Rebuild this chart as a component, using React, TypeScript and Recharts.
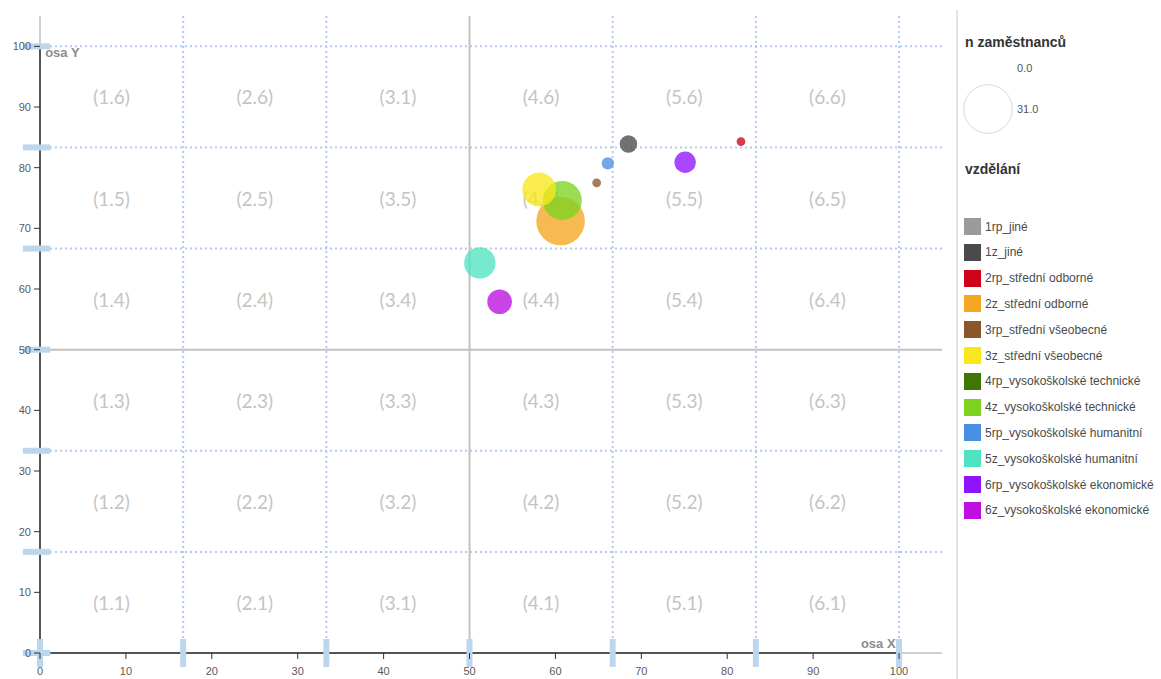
import React from 'react';
import { ScatterChart, Scatter, XAxis, YAxis, ZAxis, ReferenceLine } from 'recharts';

// ---------- data ----------
const educationCategories = [
  '1rp_jiné',
  '1z_jiné',
  '2rp_střední odborné',
  '2z_střední odborné',
  '3rp_střední všeobecné',
  '3z_střední všeobecné',
  '4rp_vysokoškolské technické',
  '4z_vysokoškolské technické',
  '5rp_vysokoškolské humanitní',
  '5z_vysokoškolské humanitní',
  '6rp_vysokoškolské ekonomické',
  '6z_vysokoškolské ekonomické',
];
const categoryColors = [
  '#9B9B9B', '#4A4A4A', '#D0021B', '#F5A623', '#8B572A', '#F8E71C',
  '#417505', '#7ED321', '#4A90E2', '#50E3C2', '#9013FE', '#BD10E0',
];
const bubbleX: (number | null)[] = [null, 68.5, 81.6, 60.6, 64.8, 58.1, null, 60.8, 66.1, 51.2, 75.1, 53.5];
const bubbleY: (number | null)[] = [null, 83.9, 84.3, 71.2, 77.5, 76.4, null, 74.6, 80.7, 64.3, 80.9, 57.9];
const employeeCounts: (number | null)[] = [null, 4, 1, 31, 1, 15, null, 20, 2, 13, 6, 8];

const xTicks = [0, 10, 20, 30, 40, 50, 60, 70, 80, 90, 100];
const yTicks = [0, 10, 20, 30, 40, 50, 60, 70, 80, 90, 100];
const sectorBounds = [0, 100 / 6, 200 / 6, 50, 400 / 6, 500 / 6, 100];
// rows from bottom (row 1) to top (row 6)
const sectorLabelRows = [
  ['(1.1)', '(2.1)', '(3.1)', '(4.1)', '(5.1)', '(6.1)'],
  ['(1.2)', '(2.2)', '(3.2)', '(4.2)', '(5.2)', '(6.2)'],
  ['(1.3)', '(2.3)', '(3.3)', '(4.3)', '(5.3)', '(6.3)'],
  ['(1.4)', '(2.4)', '(3.4)', '(4.4)', '(5.4)', '(6.4)'],
  ['(1.5)', '(2.5)', '(3.5)', '(4.5)', '(5.5)', '(6.5)'],
  ['(1.6)', '(2.6)', '(3.1)', '(4.6)', '(5.6)', '(6.6)'],
];
const axisTitles = [
  { text: 'osa Y', x: 0.6, y: 98.3, anchor: 'start' },
  { text: 'osa X', x: 99.6, y: 0.8, anchor: 'end' },
];
const sizeLegendValues = [0, 31];
const sizeLegendTitle = 'n zaměstnanců';
const colorLegendTitle = 'vzdělání';

// ---------- config ----------
const W = 1161;
const H = 679;
const X_MAX = 105;
const Y_MAX = 105;
const Z_MAX = 31;
const MAX_R = 24.3;
const Z_RANGE: [number, number] = [0, Math.PI * MAX_R * MAX_R];
const DOT_BLUE = '#b3c9ef';
const TICK_BLUE = '#bcd6ee';
const AXIS_DARK = '#555';
const AXIS_LIGHT = '#cfcfcf';

const sectorLabelData = sectorLabelRows.flatMap((row, ri) =>
  row.map((label, ci) => ({
    x: (sectorBounds[ci] + sectorBounds[ci + 1]) / 2,
    y: (sectorBounds[ri] + sectorBounds[ri + 1]) / 2,
    label,
  }))
);

const bubbleSeries = educationCategories
  .map((name, i) => ({
    name,
    color: categoryColors[i],
    n: employeeCounts[i],
    data:
      bubbleX[i] == null
        ? []
        : [{ x: bubbleX[i], y: bubbleY[i], n: employeeCounts[i] }],
  }))
  .filter((s) => s.data.length > 0)
  .sort((a, b) => (b.n as number) - (a.n as number));

const radiusFor = (v: number) => Math.sqrt(((v / Z_MAX) * Z_RANGE[1]) / Math.PI);

const SectorLabel = (props: any) => {
  const { cx, cy, payload } = props;
  return (
    <text
      x={cx}
      y={cy}
      textAnchor="middle"
      dominantBaseline="central"
      fill="#c4c4c4"
      fontSize={19}
      fontFamily="Lato, 'Open Sans', sans-serif"
    >
      {payload.label}
    </text>
  );
};

const AxisTitle = (props: any) => {
  const { cx, cy, payload } = props;
  return (
    <text
      x={cx}
      y={cy}
      textAnchor={payload.anchor}
      fill="#8c8c8c"
      fontSize={13}
      fontWeight="bold"
      fontFamily="'Liberation Sans', Arial, sans-serif"
    >
      {payload.text}
    </text>
  );
};

const tickStyle = { fill: '#5a5a5a', fontSize: 11, fontFamily: "'Liberation Sans', Arial, sans-serif" };

export default function App() {
  return (
    <div
      style={{
        position: 'absolute',
        left: 0,
        top: 0,
        width: W,
        height: H,
        background: '#fff',
        fontFamily: "'Liberation Sans', Arial, sans-serif",
      }}
    >
      <ScatterChart width={W} height={H} margin={{ top: 16, right: 219, bottom: 6, left: 0 }}>
        <XAxis
          type="number"
          dataKey="x"
          domain={[0, X_MAX]}
          ticks={xTicks}
          allowDataOverflow
          axisLine={false}
          tickLine={{ stroke: '#333' }}
          tickSize={6}
          tickMargin={8}
          height={20}
          tick={tickStyle}
          interval={0}
        />
        <YAxis
          type="number"
          dataKey="y"
          domain={[0, Y_MAX]}
          ticks={yTicks}
          allowDataOverflow
          axisLine={false}
          tickLine={{ stroke: '#333' }}
          tickSize={6}
          tickMargin={3}
          width={40}
          tick={tickStyle}
          interval={0}
        />
        <ZAxis type="number" dataKey="n" domain={[0, Z_MAX]} range={Z_RANGE} />

        {/* dotted sector grid */}
        {sectorBounds
          .filter((b) => b !== 0 && b !== 50)
          .map((b) => (
            <ReferenceLine
              key={'vx' + b}
              x={b}
              stroke={DOT_BLUE}
              strokeWidth={2}
              strokeDasharray="2 3"
              ifOverflow="visible"
            />
          ))}
        {sectorBounds
          .filter((b) => b !== 0 && b !== 50)
          .map((b) => (
            <ReferenceLine
              key={'hy' + b}
              y={b}
              stroke={DOT_BLUE}
              strokeWidth={2}
              strokeDasharray="2 3"
              ifOverflow="visible"
            />
          ))}

        {/* centre lines */}
        <ReferenceLine x={50} stroke="#c2c2c2" strokeWidth={2} ifOverflow="visible" />
        <ReferenceLine y={50} stroke="#c2c2c2" strokeWidth={2} ifOverflow="visible" />

        {/* axis lines: light extensions and dark 0–100 */}
        <ReferenceLine segment={[{ x: 0, y: 0 }, { x: 0, y: Y_MAX }]} stroke={AXIS_LIGHT} strokeWidth={2} ifOverflow="visible" />
        <ReferenceLine segment={[{ x: 0, y: 0 }, { x: X_MAX, y: 0 }]} stroke={AXIS_LIGHT} strokeWidth={2} ifOverflow="visible" />
        <ReferenceLine segment={[{ x: 0, y: 0 }, { x: 0, y: 100 }]} stroke={AXIS_DARK} strokeWidth={2} ifOverflow="visible" />
        <ReferenceLine segment={[{ x: 0, y: 0 }, { x: 100, y: 0 }]} stroke={AXIS_DARK} strokeWidth={2} ifOverflow="visible" />

        {/* blue sector ticks on axes */}
        {sectorBounds.map((b) => (
          <ReferenceLine
            key={'tx' + b}
            segment={[{ x: b, y: -2.3 }, { x: b, y: 2.3 }]}
            stroke={TICK_BLUE}
            strokeWidth={6}
            ifOverflow="visible"
          />
        ))}
        {sectorBounds.map((b) => (
          <ReferenceLine
            key={'ty' + b}
            segment={[{ x: -2, y: b }, { x: 1.2, y: b }]}
            stroke={TICK_BLUE}
            strokeWidth={6}
            ifOverflow="visible"
          />
        ))}

        {/* sector labels */}
        <Scatter data={sectorLabelData} shape={SectorLabel} isAnimationActive={false} />
        <Scatter data={axisTitles} shape={AxisTitle} isAnimationActive={false} />

        {/* bubbles */}
        {bubbleSeries.map((s) => (
          <Scatter
            key={s.name}
            name={s.name}
            data={s.data}
            fill={s.color}
            fillOpacity={0.78}
            shape="circle"
            isAnimationActive={false}
          />
        ))}
      </ScatterChart>

      {/* legend panel */}
      <div
        style={{
          position: 'absolute',
          left: 956,
          top: 10,
          width: 205,
          height: H - 10,
          borderLeft: '2px solid #e2e2e2',
        }}
      >
        <div style={{ position: 'absolute', left: 7, top: 24, fontSize: 14, fontWeight: 'bold', color: '#333', whiteSpace: 'nowrap' }}>
          {sizeLegendTitle}
        </div>
        <svg style={{ position: 'absolute', left: 0, top: 0 }} width={200} height={140}>
          {sizeLegendValues.map((v, i) => {
            const r = radiusFor(v);
            const cy = i === 0 ? 58 : 99;
            return (
              <g key={v}>
                {r > 0 && <circle cx={30} cy={cy} r={r} fill="none" stroke="#d9d9d9" strokeWidth={1} />}
                <text x={59} y={cy} dominantBaseline="central" fontSize={11} fill="#555">
                  {v.toFixed(1)}
                </text>
              </g>
            );
          })}
        </svg>
        <div style={{ position: 'absolute', left: 7, top: 151, fontSize: 14, fontWeight: 'bold', color: '#333' }}>
          {colorLegendTitle}
        </div>
        {educationCategories.map((name, i) => (
          <div
            key={name}
            style={{
              position: 'absolute',
              left: 6,
              top: 208 + i * 25.8,
              height: 17,
              display: 'flex',
              alignItems: 'center',
              whiteSpace: 'nowrap',
            }}
          >
            <span style={{ display: 'inline-block', width: 17, height: 17, background: categoryColors[i] }} />
            <span style={{ marginLeft: 4, fontSize: 12, color: '#4a4a4a' }}>{name}</span>
          </div>
        ))}
      </div>
    </div>
  );
}
